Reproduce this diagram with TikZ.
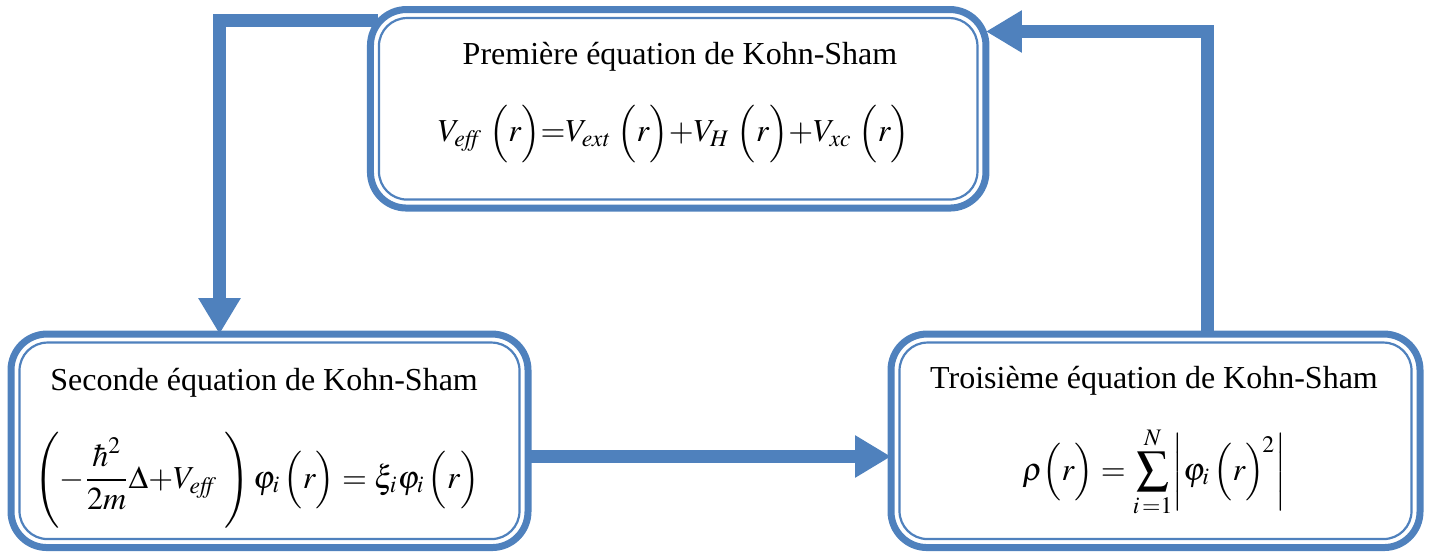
\documentclass[tikz,border=0pt]{standalone}
\usepackage{mathptmx}
\usepackage[no-math]{fontspec}
\setmainfont{Liberation Serif}
\usetikzlibrary{arrows.meta}
\definecolor{ksblue}{HTML}{4F81BD}
\pgfdeclarelayer{bg}
\pgfsetlayers{bg,main}
\tikzset{
  kbox/.style={draw=ksblue, line width=3.5pt, fill=white, rounded corners=18pt,
    inner sep=0pt, outer sep=0pt},
  kinner/.style={draw=ksblue, line width=1.1pt, rounded corners=14pt},
  flow/.style={draw=ksblue, line width=6.5pt, line join=miter,
    -{Triangle[width=20pt,length=18pt]}},
  ktitle/.style={inner sep=0pt, font=\fontsize{16}{19}\selectfont},
  keq/.style={inner sep=0pt, font=\fontsize{16}{19}\selectfont},
}
\newcommand{\innerframe}[1]{%
  \draw[kinner] ([shift={(4.25pt,4.25pt)}]#1.south west) rectangle
                ([shift={(-4.25pt,-4.25pt)}]#1.north east);}
\begin{document}
\begin{tikzpicture}[x=1pt,y=1pt]
\useasboundingbox (0,0) rectangle (717,276.5);

% the three Kohn-Sham equations
\node[kbox, minimum width=307.75pt, minimum height=99.25pt] (b1) at (339.1,222.1) {};
\node[kbox, minimum width=258.5pt, minimum height=106.75pt] (b2) at (134.75,56.1) {};
\node[kbox, minimum width=264.5pt, minimum height=106.75pt] (b3) at (577.75,56.1) {};
\innerframe{b1}
\innerframe{b2}
\innerframe{b3}

\node[ktitle, anchor=base] (t1) at (340,244) {Première équation de Kohn-Sham};
\node[keq, anchor=base] (e1) at (337,205.7)
  {$V_{\mathit{eff}}\;\Big(r\Big){=}V_{\mathit{ext}}\;\Big(r\Big){+}V_{H}\;\Big(r\Big){+}V_{\mathit{xc}}\;\Big(r\Big)$};

\node[ktitle, anchor=base west] (t2) at (25,81.5) {Seconde équation de Kohn-Sham};
\node[keq] (e2) at (128.5,36.5)
  {$\displaystyle\left(-\frac{\hbar^2}{2m}\Delta{+}V_{\mathit{eff}}\;\rule[-17.5pt]{0pt}{43pt}\right)\varphi_i\,\Big(r\Big)=\xi_i\varphi_i\,\Big(r\Big)$};

\node[ktitle, anchor=base] (t3) at (577,82.5) {Troisième équation de Kohn-Sham};
\node[keq] (e3) at (577,40.5)
  {$\displaystyle\rho\Big(r\Big)=\sum_{i\,=1}^{N}\!\bigg|\varphi_i\,\Big(r\Big)^{\!2}\bigg|$};

% self-consistent loop
\coordinate (c1) at (109.75,266.25);
\coordinate (c2) at (354.5,48.25);
\coordinate (c3) at (603.5,260.75);
\begin{pgfonlayer}{bg}
\draw[flow] ([xshift=4pt]b1.west |- c1) -- (c1) -- (c1 |- b2.north);
\draw[flow] (b2.east |- c2) -- (b3.west |- c2);
\draw[flow] (c3 |- b3.north) -- (c3) -- (b1.east |- c3);
\end{pgfonlayer}
\end{tikzpicture}
\end{document}
